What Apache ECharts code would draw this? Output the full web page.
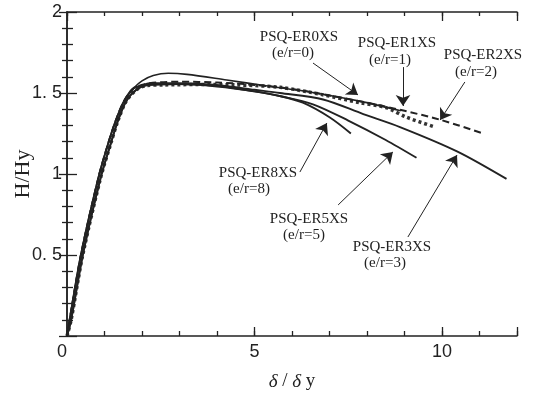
<!DOCTYPE html>
<html>
<head>
<meta charset="utf-8">
<script src="https://cdn.jsdelivr.net/npm/echarts@6/dist/echarts.min.js"></script>
<style>
  html, body { margin: 0; padding: 0; background: #fff; }
  #chart { width: 534px; height: 397px; }
</style>
</head>
<body>
<div id="chart"></div>
<script>
// 荷重-変位 曲線 (H/Hy vs δ/δy)
const riseA = [[0, 0], [0.07, 0.1], [0.37, 0.5], [0.84, 0.98], [1.1, 1.19], [1.3, 1.33], [1.52, 1.45], [1.78, 1.53]];
const riseB = [[0, 0], [0.11, 0.1], [0.42, 0.5], [0.9, 0.98], [1.17, 1.19], [1.36, 1.33], [1.58, 1.45], [1.85, 1.52]];

const er0 = [[2.0, 1.575], [2.3, 1.608], [2.7, 1.622], [3.2, 1.615], [4.26, 1.58], [5.3, 1.545], [6.5, 1.505], [7.8, 1.45], [8.9, 1.39]];
const er1 = [[2.1, 1.545], [2.6, 1.55], [3.5, 1.552], [4.5, 1.55], [5.68, 1.535], [6.8, 1.49], [7.8, 1.44], [8.5, 1.41], [9.06, 1.35], [9.81, 1.29]];
const er2 = [[2.2, 1.56], [3, 1.57], [4, 1.565], [5, 1.55], [6, 1.525], [7, 1.485], [8, 1.44], [9, 1.39], [9.95, 1.335], [11.1, 1.25]];
const er3 = [[2.2, 1.56], [3, 1.56], [4, 1.55], [5, 1.52], [5.68, 1.5], [6.83, 1.46], [7.9, 1.37], [8.88, 1.29], [10.4, 1.14], [11.72, 0.97]];
const er5 = [[2.2, 1.55], [3, 1.555], [4, 1.545], [5, 1.51], [5.7, 1.48], [6.56, 1.43], [7.5, 1.33], [8.5, 1.21], [9.32, 1.1]];
const er8 = [[2.2, 1.55], [3, 1.555], [4, 1.54], [5, 1.51], [5.7, 1.48], [6.29, 1.44], [7, 1.35], [7.57, 1.25]];

// 矢印 (データ座標)
const arrows = [
  [[6.56, 1.685], [7.76, 1.488]],
  [[8.96, 1.66], [8.96, 1.42]],
  [[10.61, 1.568], [9.95, 1.333]],
  [[6.21, 1.012], [6.93, 1.315]],
  [[7.23, 0.809], [8.69, 1.136]],
  [[9.09, 0.611], [10.4, 1.117]]
];

const xLabels = [0, 5, 10];
const yLabels = { 0.5: '0. 5', 1: '1', 1.5: '1. 5', 2: '2' };

const labels = [
  { name: 'PSQ-ER0XS', sub: '(e/r=0)', x: 299, y: 37, sx: 293, sy: 53 },
  { name: 'PSQ-ER1XS', sub: '(e/r=1)', x: 397, y: 43, sx: 390, sy: 60 },
  { name: 'PSQ-ER2XS', sub: '(e/r=2)', x: 483, y: 55, sx: 476, sy: 72 },
  { name: 'PSQ-ER8XS', sub: '(e/r=8)', x: 258, y: 173, sx: 249, sy: 189 },
  { name: 'PSQ-ER5XS', sub: '(e/r=5)', x: 309, y: 219, sx: 304, sy: 235 },
  { name: 'PSQ-ER3XS', sub: '(e/r=3)', x: 392, y: 247, sx: 385, sy: 263 }
];

const chart = echarts.init(document.getElementById('chart'));
const INK = '#222';
const serif = '"Liberation Serif", "DejaVu Serif", serif';
const sans = '"Liberation Sans", Arial, sans-serif';

const line = (name, data, style) => ({
  name,
  type: 'line',
  data,
  symbol: 'none',
  smooth: 0.3,
  silent: true,
  lineStyle: Object.assign({ color: INK, width: 1.9 }, style)
});

const graphics = [];
labels.forEach((l) => {
  graphics.push({ type: 'text', x: l.x, y: l.y, style: { text: l.name, font: '15px ' + serif, fill: INK, textAlign: 'center', textVerticalAlign: 'middle' } });
  graphics.push({ type: 'text', x: l.sx, y: l.sy, style: { text: l.sub, font: '15px ' + serif, fill: INK, textAlign: 'center', textVerticalAlign: 'middle' } });
});

const hiddenLabel = { show: false };
const boxLine = { show: true, lineStyle: { color: INK, width: 1.5 } };
const tickStyle = { color: INK, width: 1.3 };

chart.setOption({
  animation: false,
  grid: { left: 67, right: 17, top: 12, bottom: 61, containLabel: false, outerBoundsMode: 'none' },
  xAxis: [
    {
      type: 'value', min: 0, max: 12, interval: 1, position: 'bottom',
      axisLine: boxLine,
      axisTick: { inside: true, length: 5, lineStyle: tickStyle },
      splitLine: { show: false },
      axisLabel: {
        margin: 7, color: INK, fontFamily: sans, fontSize: 18,
        alignMinLabel: 'right',
        formatter: (v) => (xLabels.indexOf(v) < 0 ? '' : String(v))
      },
      name: '{i|δ} / {i|δ} y', nameLocation: 'middle', nameGap: 36, nameMoveOverlap: false,
      nameTextStyle: { fontFamily: serif, fontSize: 19, color: INK, rich: { i: { fontFamily: serif, fontStyle: 'italic', fontSize: 19, color: INK } } }
    },
    {
      type: 'value', min: 0, max: 12, interval: 5, position: 'bottom', offset: 0,
      axisLine: { show: false }, splitLine: { show: false }, axisLabel: hiddenLabel,
      axisTick: { inside: true, length: 9, lineStyle: tickStyle }
    },
    {
      type: 'value', min: 0, max: 12, interval: 1, position: 'top', offset: 0,
      axisLine: boxLine, splitLine: { show: false }, axisLabel: hiddenLabel,
      axisTick: { inside: true, length: 4, lineStyle: tickStyle }
    },
    {
      type: 'value', min: 0, max: 12, interval: 5, position: 'top', offset: 0,
      axisLine: { show: false }, splitLine: { show: false }, axisLabel: hiddenLabel,
      axisTick: { inside: true, length: 9, lineStyle: tickStyle }
    }
  ],
  yAxis: [
    {
      type: 'value', min: 0, max: 2, interval: 0.5, position: 'left',
      axisLine: boxLine,
      axisTick: { inside: true, length: 10, lineStyle: tickStyle },
      minorTick: { show: true, splitNumber: 5, length: 6, lineStyle: tickStyle },
      splitLine: { show: false },
      axisLabel: {
        margin: 5, color: INK, fontFamily: sans, fontSize: 18,
        formatter: (v) => yLabels[v] || ''
      },
      name: 'H/Hy', nameLocation: 'middle', nameGap: 33, nameRotate: 90, nameMoveOverlap: false,
      nameTextStyle: { fontFamily: serif, fontSize: 22, color: INK }
    },
    {
      type: 'value', min: 0, max: 2, interval: 0.5, position: 'right', offset: 0,
      axisLine: boxLine, splitLine: { show: false }, axisLabel: hiddenLabel,
      axisTick: { inside: true, length: 8, lineStyle: tickStyle },
      minorTick: { show: true, splitNumber: 5, length: 5, lineStyle: tickStyle }
    }
  ],
  series: [
    line('ER1', riseB.concat(er1), { color: '#333', width: 3.5, type: [3, 3] }),
    line('ER0', riseA.concat(er0), { width: 1.6 }),
    line('ER2', riseA.concat(er2), { type: [7, 4], width: 2 }),
    line('ER5', riseA.concat(er5), {}),
    line('ER8', riseB.concat(er8), {}),
    Object.assign(line('ER3', riseB.concat(er3), {}), {
      markLine: {
        silent: true,
        symbol: ['none', 'arrow'],
        symbolSize: 11,
        label: { show: false },
        emphasis: { disabled: true },
        lineStyle: { color: INK, width: 1, type: 'solid' },
        data: arrows.map((a) => [{ coord: a[0] }, { coord: a[1] }])
      }
    })
  ],
  graphic: graphics
});
</script>
</body>
</html>
